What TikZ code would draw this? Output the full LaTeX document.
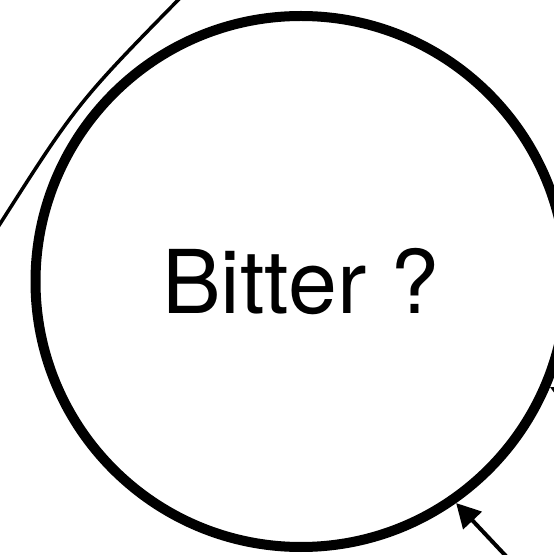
\documentclass[tikz,border=0pt]{standalone}
\usepackage{fontspec}
\setmainfont{TeX Gyre Heros}
\usetikzlibrary{arrows.meta}

\begin{document}
\begin{tikzpicture}[x=1pt,y=1pt,
  taste/.style={circle,draw,line width=10pt,minimum size=531pt,inner sep=0pt,
    font=\fontsize{88}{100}\selectfont},
  pointer/.style={line width=4pt,-{Triangle[length=24pt,width=25pt]}}]
  \useasboundingbox (0,0) rectangle (554,555);
  \clip (0,0) rectangle (554,555);
  \node[taste] (bitter) at (301,273.5) {Bitter ?};
  \coordinate (linkA) at (-5.4,322.6);
  \coordinate (linkB) at (185,562);
  \coordinate (tailS) at (520,-16);
  \coordinate (tailE) at (610,140);
  \draw[line width=3.5pt] (linkA) .. controls (77,452) .. (linkB);
  \draw[pointer] (tailS) -- (bitter.-55);
  \draw[pointer] (tailE) -- (bitter.-23);
\end{tikzpicture}
\end{document}
